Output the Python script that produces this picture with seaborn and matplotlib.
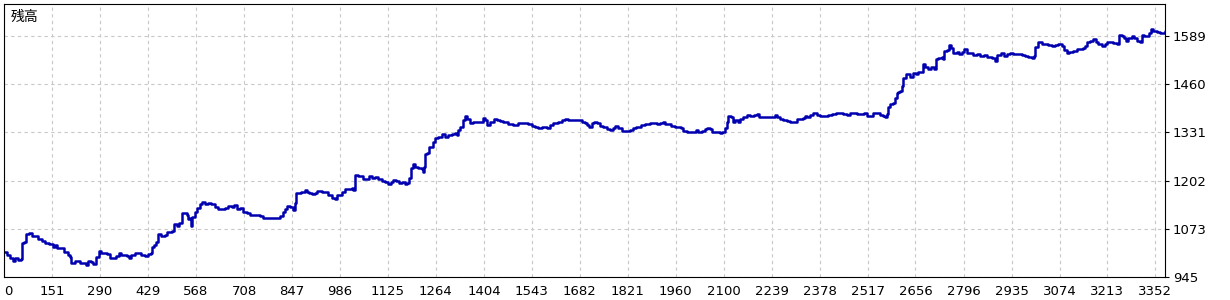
import matplotlib
matplotlib.use("Agg")
import matplotlib.pyplot as plt
import seaborn as sns
import pandas as pd

# ---- data ----
trade_no = [
    12, 19, 28, 36, 43, 52, 60, 63, 69, 75, 84, 91, 101, 110, 120, 130, 142, 152, 159, 164,
    178, 186, 197, 204, 205, 217, 229, 233, 243, 249, 255, 265, 270, 278, 287, 294, 309, 318, 328, 335,
    345, 352, 367, 374, 381, 391, 401, 410, 420, 430, 437, 442, 446, 452, 459, 468, 478, 483, 493, 500,
    505, 512, 520, 527, 534, 541, 546, 551, 554, 558, 565, 572, 580, 585, 594, 604, 613, 623, 633, 643,
    652, 662, 672, 678, 686, 696, 705, 715, 725, 734, 744, 754, 763, 783, 802, 812, 820, 826, 833, 841,
    850, 855, 858, 865, 872, 879, 884, 891, 897, 904, 913, 920, 933, 942, 952, 962, 971, 978, 991, 1000,
    1010, 1020, 1025, 1029, 1039, 1054, 1063, 1071, 1078, 1088, 1097, 1107, 1117, 1126, 1133, 1141, 1150, 1158, 1165, 1175,
    1181, 1187, 1191, 1197, 1204, 1213, 1223, 1226, 1230, 1233, 1240, 1245, 1252, 1257, 1262, 1271, 1281, 1291, 1300, 1310,
    1320, 1325, 1329, 1334, 1342, 1349, 1355, 1363, 1373, 1387, 1400, 1407, 1413, 1421, 1433, 1441, 1450, 1460, 1474, 1489,
    1503, 1513, 1523, 1532, 1542, 1552, 1561, 1571, 1586, 1595, 1605, 1619, 1629, 1639, 1648, 1663, 1673, 1687, 1697, 1704,
    1709, 1716, 1723, 1731, 1740, 1750, 1760, 1769, 1777, 1784, 1794, 1803, 1818, 1828, 1837, 1845, 1852, 1859, 1871, 1886,
    1895, 1905, 1915, 1922, 1929, 1939, 1948, 1958, 1968, 1977, 1982, 1992, 2002, 2011, 2019, 2026, 2036, 2045, 2052, 2060,
    2067, 2079, 2089, 2096, 2103, 2108, 2113, 2120, 2126, 2132, 2140, 2147, 2156, 2166, 2176, 2187, 2195, 2203, 2205, 2219,
    2239, 2248, 2255, 2263, 2272, 2282, 2292, 2301, 2311, 2321, 2330, 2335, 2342, 2350, 2359, 2369, 2379, 2393, 2403, 2413,
    2425, 2437, 2446, 2456, 2466, 2475, 2485, 2500, 2507, 2514, 2524, 2534, 2543, 2553, 2561, 2567, 2572, 2577, 2582, 2592,
    2596, 2601, 2606, 2611, 2616, 2621, 2630, 2640, 2650, 2657, 2664, 2674, 2677, 2684, 2693, 2700, 2710, 2716, 2722, 2732,
    2737, 2739, 2747, 2753, 2758, 2766, 2776, 2783, 2790, 2797, 2805, 2814, 2824, 2834, 2843, 2855, 2864, 2877, 2887, 2893,
    2903, 2913, 2921, 2930, 2940, 2950, 2964, 2974, 2983, 2993, 3000, 3003, 3012, 3022, 3032, 3041, 3051, 3061, 3070, 3080,
    3087, 3095, 3102, 3114, 3124, 3133, 3143, 3148, 3153, 3162, 3172, 3180, 3186, 3196, 3206, 3213, 3220, 3230, 3240, 3247,
    3254, 3261, 3267, 3274, 3283, 3290, 3298, 3308, 3312, 3319, 3327, 3335, 3339, 3346, 3356, 3366, 3373, 3380,
]
balance = [
    1011, 1003, 994, 987, 994, 989, 991, 1034, 1038, 1058, 1061, 1054, 1054, 1045, 1040, 1034, 1032, 1023, 1029, 1022,
    1021, 1011, 1003, 998, 982, 986, 987, 980, 982, 977, 987, 984, 978, 998, 1013, 1007, 1006, 995, 994, 1001,
    1007, 1002, 1000, 995, 1003, 1009, 1007, 1002, 1001, 1005, 1007, 1025, 1029, 1038, 1058, 1054, 1056, 1065, 1063, 1067,
    1086, 1080, 1089, 1114, 1116, 1110, 1098, 1101, 1080, 1105, 1119, 1128, 1138, 1144, 1138, 1141, 1139, 1130, 1126, 1127,
    1128, 1133, 1132, 1137, 1125, 1128, 1119, 1114, 1110, 1109, 1110, 1107, 1103, 1103, 1103, 1107, 1119, 1125, 1135, 1130,
    1123, 1141, 1170, 1168, 1171, 1172, 1177, 1171, 1168, 1165, 1170, 1174, 1172, 1171, 1163, 1155, 1153, 1163, 1172, 1180,
    1179, 1181, 1177, 1217, 1214, 1206, 1207, 1214, 1210, 1211, 1205, 1202, 1199, 1193, 1199, 1204, 1201, 1195, 1199, 1192,
    1196, 1208, 1237, 1246, 1239, 1237, 1232, 1226, 1239, 1273, 1277, 1293, 1293, 1304, 1315, 1318, 1326, 1318, 1324, 1328,
    1329, 1324, 1338, 1346, 1363, 1375, 1366, 1356, 1359, 1360, 1369, 1363, 1351, 1360, 1367, 1363, 1362, 1359, 1354, 1351,
    1356, 1357, 1357, 1354, 1349, 1346, 1342, 1346, 1342, 1351, 1357, 1358, 1363, 1366, 1364, 1364, 1363, 1360, 1357, 1351,
    1346, 1356, 1360, 1356, 1349, 1345, 1339, 1338, 1342, 1349, 1342, 1336, 1336, 1338, 1342, 1346, 1345, 1351, 1353, 1357,
    1356, 1353, 1356, 1358, 1354, 1353, 1348, 1345, 1346, 1344, 1335, 1333, 1331, 1333, 1338, 1333, 1336, 1340, 1344, 1339,
    1333, 1331, 1329, 1333, 1342, 1360, 1375, 1372, 1360, 1363, 1360, 1366, 1373, 1378, 1375, 1378, 1380, 1373, 1372, 1373,
    1373, 1378, 1373, 1366, 1364, 1362, 1360, 1360, 1366, 1366, 1369, 1376, 1372, 1378, 1382, 1378, 1376, 1376, 1378, 1380,
    1382, 1384, 1380, 1378, 1384, 1382, 1380, 1380, 1382, 1376, 1376, 1382, 1382, 1378, 1375, 1372, 1380, 1400, 1406, 1409,
    1423, 1436, 1438, 1442, 1454, 1476, 1488, 1480, 1491, 1487, 1494, 1492, 1514, 1507, 1500, 1506, 1500, 1527, 1530, 1532,
    1527, 1550, 1552, 1565, 1557, 1543, 1547, 1541, 1547, 1555, 1545, 1543, 1539, 1540, 1536, 1539, 1532, 1530, 1523, 1539,
    1545, 1536, 1540, 1543, 1541, 1540, 1539, 1536, 1534, 1530, 1536, 1561, 1572, 1568, 1568, 1565, 1563, 1565, 1567, 1563,
    1552, 1543, 1547, 1550, 1554, 1554, 1557, 1563, 1574, 1577, 1581, 1574, 1568, 1563, 1568, 1572, 1574, 1570, 1568, 1592,
    1590, 1583, 1577, 1583, 1588, 1583, 1577, 1572, 1592, 1588, 1590, 1597, 1607, 1604, 1601, 1597, 1598, 1604,
]

x_tick_labels = ["0", "151", "290", "429", "568", "708", "847", "986", "1125", "1264",
                 "1404", "1543", "1682", "1821", "1960", "2100", "2239", "2378", "2517",
                 "2656", "2796", "2935", "3074", "3213", "3352"]
y_tick_labels = ["945", "1073", "1202", "1331", "1460", "1589"]
title_text = "残高"

x_min, x_max = 12, 3381
y_min, y_max = 945, 1675

# ---- drawing ----
sns.set_theme(style="white")
plt.rcParams["font.family"] = ["DejaVu Sans", "Noto Sans CJK JP"]

df = pd.DataFrame({"trade": trade_no, "balance": balance})

fig = plt.figure(figsize=(12.3, 3.0), dpi=100)
ax = fig.add_axes([4.3 / 1230, 1 - 276.5 / 300, (1165.3 - 4.3) / 1230, (276.5 - 4) / 300])

sns.lineplot(data=df, x="trade", y="balance", ax=ax, color="#0000b0",
             linewidth=1.8, sort=False, estimator=None, drawstyle="steps-post")

xt_pos = [x_min] + [float(v) for v in x_tick_labels[1:]]
ax.set_xticks(xt_pos)
ax.set_xticklabels(x_tick_labels)
ax.set_yticks([float(v) for v in y_tick_labels])
ax.set_yticklabels(y_tick_labels)
ax.set_xlim(x_min, x_max)
ax.set_ylim(y_min, y_max)

ax.yaxis.tick_right()
ax.tick_params(axis="both", direction="out", length=3, width=0.8, color="black",
               labelsize=9.5, labelcolor="black", pad=2.5)
ax.tick_params(axis="x", pad=3)
ax.get_xticklabels()[0].set_horizontalalignment("left")

ax.grid(True, color="#c8c8c8", linestyle=(0, (3, 3)), linewidth=0.8)
ax.set_axisbelow(True)
for s in ax.spines.values():
    s.set_visible(True)
    s.set_color("black")
    s.set_linewidth(0.8)

ax.set_xlabel("")
ax.set_ylabel("")
ax.text(6 / 1161, 1 - 13 / 272.5, title_text, transform=ax.transAxes,
        fontsize=10, family=["Noto Sans CJK JP", "DejaVu Sans"], va="center", ha="left",
        color="black")

fig.savefig("out.png", dpi=100, facecolor="white")
